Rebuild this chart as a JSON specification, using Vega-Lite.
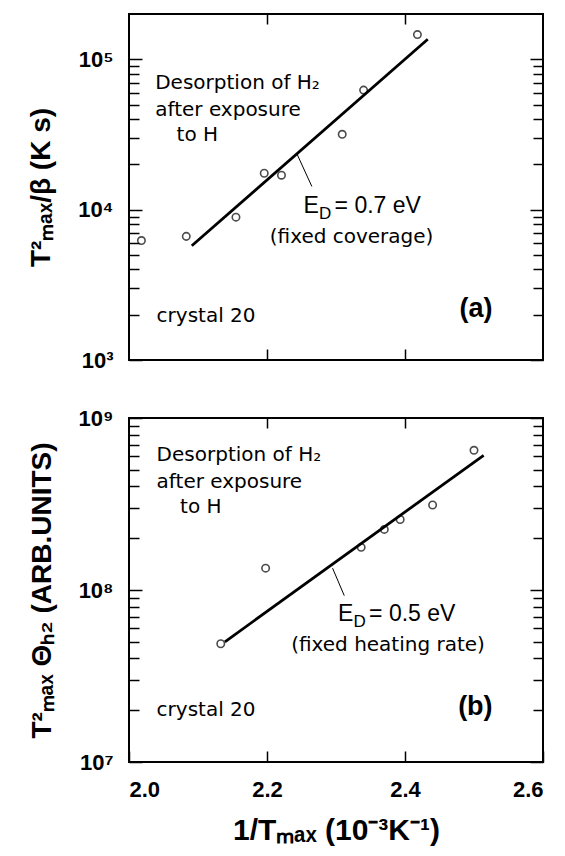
{
  "$schema": "https://vega.github.io/schema/vega-lite/v6.json",
  "background": "white",
  "padding": {"left": 26, "top": 12, "right": 4, "bottom": 4},
  "spacing": 58,
  "bounds": "flush",
  "config": {
    "view": {"stroke": "black", "strokeWidth": 2},
    "axis": {
      "domain": false, "grid": false, "tickColor": "black", "tickWidth": 1.5,
      "labelColor": "black", "titleColor": "black",
      "labelFont": "Liberation Sans", "labelFontWeight": "bold", "labelFontSize": 22,
      "titleFont": "Liberation Sans", "titleFontWeight": "bold", "titleFontSize": 28
    },
    "text": {"font": "DejaVu Sans", "fill": "black"}
  },
  "datasets": {
    "top_pts": [
      {"x": 2.018, "y": 6230}, {"x": 2.083, "y": 6640}, {"x": 2.155, "y": 8910},
      {"x": 2.196, "y": 17460}, {"x": 2.221, "y": 16940}, {"x": 2.309, "y": 31700},
      {"x": 2.340, "y": 62400}, {"x": 2.418, "y": 145900}
    ],
    "top_fit": [{"x": 2.091, "y": 5750}, {"x": 2.433, "y": 135900}],
    "top_lead": [{"x": 2.243, "y": 23700, "x2": 2.265, "y2": 14260}],
    "top_text": [
      {"x": 2.038, "y": 69000, "t": "Desorption of H₂"},
      {"x": 2.038, "y": 45900, "t": "after exposure"},
      {"x": 2.069, "y": 31300, "t": "to H"},
      {"x": 2.204, "y": 6550, "t": "(fixed coverage)"},
      {"x": 2.040, "y": 1960, "t": "crystal 20"}
    ],
    "top_big": [
      {"x": 2.253, "y": 10500, "t": "E"},
      {"x": 2.298, "y": 10500, "t": "= 0.7 eV"}
    ],
    "top_sub": [{"x": 2.2755, "y": 10500, "t": "D"}],
    "top_lab": [{"x": 2.479, "y": 2170, "t": "(a)"}],
    "bot_pts": [
      {"x": 2.133, "y": 48700000}, {"x": 2.198, "y": 134000000}, {"x": 2.3365, "y": 177000000},
      {"x": 2.370, "y": 225000000}, {"x": 2.393, "y": 257000000}, {"x": 2.440, "y": 312000000},
      {"x": 2.500, "y": 649000000}
    ],
    "bot_fit": [{"x": 2.139, "y": 50000000}, {"x": 2.514, "y": 607000000}],
    "bot_lead": [{"x": 2.295, "y": 134000000, "x2": 2.312, "y2": 92700000}],
    "bot_text": [
      {"x": 2.040, "y": 610000000, "t": "Desorption of H₂"},
      {"x": 2.040, "y": 427000000, "t": "after exposure"},
      {"x": 2.074, "y": 305000000, "t": "to H"},
      {"x": 2.235, "y": 48000000, "t": "(fixed heating rate)"},
      {"x": 2.040, "y": 20000000, "t": "crystal 20"}
    ],
    "bot_big": [
      {"x": 2.303, "y": 73000000, "t": "E"},
      {"x": 2.348, "y": 73000000, "t": "= 0.5 eV"}
    ],
    "bot_sub": [{"x": 2.3255, "y": 73000000, "t": "D"}],
    "bot_lab": [{"x": 2.477, "y": 21000000, "t": "(b)"}]
  },
  "vconcat": [
    {
      "width": 414, "height": 346,
      "resolve": {"axis": {"x": "independent", "y": "independent"}},
      "layer": [
        {
          "data": {"name": "top_pts"},
          "mark": {"type": "point", "shape": "circle", "filled": false, "stroke": "black", "strokeWidth": 1.6, "size": 55},
          "encoding": {
            "x": {"field": "x", "type": "quantitative",
              "scale": {"domain": [2.0, 2.6], "nice": false, "zero": false},
              "axis": {"orient": "bottom", "values": [2.2, 2.4], "labels": false, "title": null, "tickSize": -11}},
            "y": {"field": "y", "type": "quantitative",
              "scale": {"type": "log", "domain": [1000, 200000], "nice": false},
              "axis": {"orient": "left",
                "values": [1000, 2000, 3000, 4000, 5000, 6000, 7000, 8000, 9000, 10000, 20000, 30000, 40000, 50000, 60000, 70000, 80000, 90000, 100000],
                "labelExpr": "datum.value == 1000 ? '10³' : datum.value == 10000 ? '10⁴' : datum.value == 100000 ? '10⁵' : ''",
                "tickSize": {"condition": {"test": "datum.value == 1000 || datum.value == 10000 || datum.value == 100000", "value": -13}, "value": -10},
                "labelPadding": 29,
                "title": "T²ₘₐₓ/β  (K s)", "titlePadding": 22}}
          }
        },
        {
          "data": {"name": "top_fit"},
          "mark": {"type": "line", "stroke": "black", "strokeWidth": 2.8},
          "encoding": {
            "x": {"field": "x", "type": "quantitative",
              "axis": {"orient": "top", "values": [2.2, 2.4], "labels": false, "title": null, "tickSize": -10}},
            "y": {"field": "y", "type": "quantitative",
              "axis": {"orient": "right",
                "values": [1000, 2000, 3000, 4000, 5000, 6000, 7000, 8000, 9000, 10000, 20000, 30000, 40000, 50000, 60000, 70000, 80000, 90000, 100000],
                "labels": false, "title": null,
                "tickSize": {"condition": {"test": "datum.value == 1000 || datum.value == 10000 || datum.value == 100000", "value": -13}, "value": -10}}}
          }
        },
        {
          "data": {"name": "top_lead"},
          "mark": {"type": "rule", "stroke": "black", "strokeWidth": 1},
          "encoding": {
            "x": {"field": "x", "type": "quantitative", "axis": null},
            "y": {"field": "y", "type": "quantitative", "axis": null},
            "x2": {"field": "x2"}, "y2": {"field": "y2"}
          }
        },
        {
          "data": {"name": "top_text"},
          "mark": {"type": "text", "align": "left", "baseline": "middle", "fontSize": 20},
          "encoding": {
            "x": {"field": "x", "type": "quantitative", "axis": null},
            "y": {"field": "y", "type": "quantitative", "axis": null},
            "text": {"field": "t"}
          }
        },
        {
          "data": {"name": "top_big"},
          "mark": {"type": "text", "align": "left", "baseline": "middle", "fontSize": 23, "font": "Liberation Sans"},
          "encoding": {
            "x": {"field": "x", "type": "quantitative", "axis": null},
            "y": {"field": "y", "type": "quantitative", "axis": null},
            "text": {"field": "t"}
          }
        },
        {
          "data": {"name": "top_sub"},
          "mark": {"type": "text", "align": "left", "baseline": "middle", "fontSize": 17, "font": "Liberation Sans", "dy": 8},
          "encoding": {
            "x": {"field": "x", "type": "quantitative", "axis": null},
            "y": {"field": "y", "type": "quantitative", "axis": null},
            "text": {"field": "t"}
          }
        },
        {
          "data": {"name": "top_lab"},
          "mark": {"type": "text", "align": "left", "baseline": "middle", "fontSize": 27, "font": "Liberation Sans", "fontWeight": "bold"},
          "encoding": {
            "x": {"field": "x", "type": "quantitative", "axis": null},
            "y": {"field": "y", "type": "quantitative", "axis": null},
            "text": {"field": "t"}
          }
        }
      ]
    },
    {
      "width": 414, "height": 344,
      "resolve": {"axis": {"x": "independent", "y": "independent"}},
      "layer": [
        {
          "data": {"name": "bot_pts"},
          "mark": {"type": "point", "shape": "circle", "filled": false, "stroke": "black", "strokeWidth": 1.6, "size": 55},
          "encoding": {
            "x": {"field": "x", "type": "quantitative",
              "scale": {"domain": [2.0, 2.6], "nice": false, "zero": false},
              "axis": {"orient": "bottom", "values": [2.0, 2.2, 2.4, 2.6], "format": ".1f", "tickSize": -11,
                "labelPadding": 28, "title": "1/Tₘₐₓ  (10⁻³K⁻¹)", "titleFontSize": 30, "titlePadding": 15}},
            "y": {"field": "y", "type": "quantitative",
              "scale": {"type": "log", "domain": [10000000, 1000000000], "nice": false},
              "axis": {"orient": "left",
                "values": [10000000, 20000000, 30000000, 40000000, 50000000, 60000000, 70000000, 80000000, 90000000, 100000000, 200000000, 300000000, 400000000, 500000000, 600000000, 700000000, 800000000, 900000000, 1000000000],
                "labelExpr": "datum.value == 10000000 ? '10⁷' : datum.value == 100000000 ? '10⁸' : datum.value == 1000000000 ? '10⁹' : ''",
                "tickSize": {"condition": {"test": "datum.value == 10000000 || datum.value == 100000000 || datum.value == 1000000000", "value": -13}, "value": -10},
                "labelPadding": 29,
                "title": "T²ₘₐₓ   Θₕ₂   (ARB.UNITS)", "titlePadding": 22}}
          }
        },
        {
          "data": {"name": "bot_fit"},
          "mark": {"type": "line", "stroke": "black", "strokeWidth": 2.8},
          "encoding": {
            "x": {"field": "x", "type": "quantitative",
              "axis": {"orient": "top", "values": [2.2, 2.4], "labels": false, "title": null, "tickSize": -10}},
            "y": {"field": "y", "type": "quantitative",
              "axis": {"orient": "right",
                "values": [10000000, 20000000, 30000000, 40000000, 50000000, 60000000, 70000000, 80000000, 90000000, 100000000, 200000000, 300000000, 400000000, 500000000, 600000000, 700000000, 800000000, 900000000, 1000000000],
                "labels": false, "title": null,
                "tickSize": {"condition": {"test": "datum.value == 10000000 || datum.value == 100000000 || datum.value == 1000000000", "value": -13}, "value": -10}}}
          }
        },
        {
          "data": {"name": "bot_lead"},
          "mark": {"type": "rule", "stroke": "black", "strokeWidth": 1},
          "encoding": {
            "x": {"field": "x", "type": "quantitative", "axis": null},
            "y": {"field": "y", "type": "quantitative", "axis": null},
            "x2": {"field": "x2"}, "y2": {"field": "y2"}
          }
        },
        {
          "data": {"name": "bot_text"},
          "mark": {"type": "text", "align": "left", "baseline": "middle", "fontSize": 20},
          "encoding": {
            "x": {"field": "x", "type": "quantitative", "axis": null},
            "y": {"field": "y", "type": "quantitative", "axis": null},
            "text": {"field": "t"}
          }
        },
        {
          "data": {"name": "bot_big"},
          "mark": {"type": "text", "align": "left", "baseline": "middle", "fontSize": 23, "font": "Liberation Sans"},
          "encoding": {
            "x": {"field": "x", "type": "quantitative", "axis": null},
            "y": {"field": "y", "type": "quantitative", "axis": null},
            "text": {"field": "t"}
          }
        },
        {
          "data": {"name": "bot_sub"},
          "mark": {"type": "text", "align": "left", "baseline": "middle", "fontSize": 17, "font": "Liberation Sans", "dy": 8},
          "encoding": {
            "x": {"field": "x", "type": "quantitative", "axis": null},
            "y": {"field": "y", "type": "quantitative", "axis": null},
            "text": {"field": "t"}
          }
        },
        {
          "data": {"name": "bot_lab"},
          "mark": {"type": "text", "align": "left", "baseline": "middle", "fontSize": 27, "font": "Liberation Sans", "fontWeight": "bold"},
          "encoding": {
            "x": {"field": "x", "type": "quantitative", "axis": null},
            "y": {"field": "y", "type": "quantitative", "axis": null},
            "text": {"field": "t"}
          }
        }
      ]
    }
  ]
}
